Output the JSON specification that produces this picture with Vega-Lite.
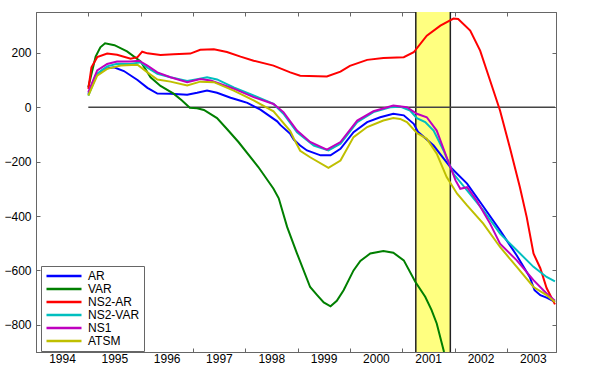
{
  "$schema": "https://vega.github.io/schema/vega-lite/v6.json",
  "width": 520,
  "height": 340,
  "autosize": {"type": "none"},
  "padding": {"left": 36, "top": 12, "right": 44, "bottom": 33},
  "background": "white",
  "datasets": {
    "recession": [{"start": 2001.26, "end": 2001.92}],
    "series": [
      {"model": "AR", "year": 1995.00, "value": 49},
      {"model": "AR", "year": 1995.14, "value": 116},
      {"model": "AR", "year": 1995.30, "value": 141},
      {"model": "AR", "year": 1995.49, "value": 147},
      {"model": "AR", "year": 1995.68, "value": 133},
      {"model": "AR", "year": 1995.94, "value": 100},
      {"model": "AR", "year": 1996.13, "value": 71},
      {"model": "AR", "year": 1996.32, "value": 50},
      {"model": "AR", "year": 1996.57, "value": 49},
      {"model": "AR", "year": 1996.89, "value": 46},
      {"model": "AR", "year": 1997.08, "value": 53},
      {"model": "AR", "year": 1997.27, "value": 61},
      {"model": "AR", "year": 1997.46, "value": 53},
      {"model": "AR", "year": 1997.72, "value": 35},
      {"model": "AR", "year": 1997.91, "value": 24},
      {"model": "AR", "year": 1998.04, "value": 16},
      {"model": "AR", "year": 1998.29, "value": -9},
      {"model": "AR", "year": 1998.61, "value": -52},
      {"model": "AR", "year": 1998.67, "value": -65},
      {"model": "AR", "year": 1998.86, "value": -98},
      {"model": "AR", "year": 1998.93, "value": -120},
      {"model": "AR", "year": 1999.05, "value": -141},
      {"model": "AR", "year": 1999.18, "value": -159},
      {"model": "AR", "year": 1999.44, "value": -177},
      {"model": "AR", "year": 1999.63, "value": -177},
      {"model": "AR", "year": 1999.82, "value": -153},
      {"model": "AR", "year": 2000.07, "value": -92},
      {"model": "AR", "year": 2000.33, "value": -55},
      {"model": "AR", "year": 2000.58, "value": -37},
      {"model": "AR", "year": 2000.83, "value": -24},
      {"model": "AR", "year": 2001.03, "value": -30},
      {"model": "AR", "year": 2001.22, "value": -61},
      {"model": "AR", "year": 2001.30, "value": -90},
      {"model": "AR", "year": 2001.60, "value": -141},
      {"model": "AR", "year": 2001.92, "value": -220},
      {"model": "AR", "year": 2002.24, "value": -281},
      {"model": "AR", "year": 2002.55, "value": -365},
      {"model": "AR", "year": 2002.87, "value": -453},
      {"model": "AR", "year": 2003.19, "value": -545},
      {"model": "AR", "year": 2003.44, "value": -625},
      {"model": "AR", "year": 2003.53, "value": -673},
      {"model": "AR", "year": 2003.64, "value": -691},
      {"model": "AR", "year": 2003.76, "value": -700},
      {"model": "AR", "year": 2003.92, "value": -716},

      {"model": "VAR", "year": 1995.00, "value": 73},
      {"model": "VAR", "year": 1995.14, "value": 186},
      {"model": "VAR", "year": 1995.23, "value": 220},
      {"model": "VAR", "year": 1995.32, "value": 235},
      {"model": "VAR", "year": 1995.50, "value": 228},
      {"model": "VAR", "year": 1995.74, "value": 205},
      {"model": "VAR", "year": 1996.00, "value": 168},
      {"model": "VAR", "year": 1996.19, "value": 110},
      {"model": "VAR", "year": 1996.38, "value": 78},
      {"model": "VAR", "year": 1996.63, "value": 50},
      {"model": "VAR", "year": 1996.79, "value": 25},
      {"model": "VAR", "year": 1996.94, "value": -2},
      {"model": "VAR", "year": 1997.08, "value": -4},
      {"model": "VAR", "year": 1997.21, "value": -10},
      {"model": "VAR", "year": 1997.46, "value": -40},
      {"model": "VAR", "year": 1997.65, "value": -80},
      {"model": "VAR", "year": 1997.87, "value": -128},
      {"model": "VAR", "year": 1998.25, "value": -220},
      {"model": "VAR", "year": 1998.54, "value": -300},
      {"model": "VAR", "year": 1998.64, "value": -335},
      {"model": "VAR", "year": 1998.80, "value": -440},
      {"model": "VAR", "year": 1998.99, "value": -538},
      {"model": "VAR", "year": 1999.24, "value": -661},
      {"model": "VAR", "year": 1999.37, "value": -690},
      {"model": "VAR", "year": 1999.50, "value": -718},
      {"model": "VAR", "year": 1999.63, "value": -732},
      {"model": "VAR", "year": 1999.75, "value": -712},
      {"model": "VAR", "year": 1999.88, "value": -673},
      {"model": "VAR", "year": 2000.07, "value": -600},
      {"model": "VAR", "year": 2000.20, "value": -565},
      {"model": "VAR", "year": 2000.39, "value": -538},
      {"model": "VAR", "year": 2000.64, "value": -529},
      {"model": "VAR", "year": 2000.83, "value": -535},
      {"model": "VAR", "year": 2001.03, "value": -563},
      {"model": "VAR", "year": 2001.25, "value": -642},
      {"model": "VAR", "year": 2001.44, "value": -697},
      {"model": "VAR", "year": 2001.56, "value": -745},
      {"model": "VAR", "year": 2001.66, "value": -795},
      {"model": "VAR", "year": 2001.80, "value": -900},

      {"model": "NS2-AR", "year": 1995.00, "value": 67},
      {"model": "NS2-AR", "year": 1995.06, "value": 147},
      {"model": "NS2-AR", "year": 1995.17, "value": 184},
      {"model": "NS2-AR", "year": 1995.36, "value": 197},
      {"model": "NS2-AR", "year": 1995.55, "value": 193},
      {"model": "NS2-AR", "year": 1995.81, "value": 178},
      {"model": "NS2-AR", "year": 1995.94, "value": 184},
      {"model": "NS2-AR", "year": 1996.03, "value": 204},
      {"model": "NS2-AR", "year": 1996.13, "value": 198},
      {"model": "NS2-AR", "year": 1996.38, "value": 192},
      {"model": "NS2-AR", "year": 1996.63, "value": 195},
      {"model": "NS2-AR", "year": 1996.95, "value": 197},
      {"model": "NS2-AR", "year": 1997.14, "value": 211},
      {"model": "NS2-AR", "year": 1997.40, "value": 213},
      {"model": "NS2-AR", "year": 1997.65, "value": 203},
      {"model": "NS2-AR", "year": 1997.91, "value": 186},
      {"model": "NS2-AR", "year": 1998.16, "value": 171},
      {"model": "NS2-AR", "year": 1998.54, "value": 153},
      {"model": "NS2-AR", "year": 1998.86, "value": 128},
      {"model": "NS2-AR", "year": 1999.05, "value": 116},
      {"model": "NS2-AR", "year": 1999.56, "value": 113},
      {"model": "NS2-AR", "year": 1999.82, "value": 131},
      {"model": "NS2-AR", "year": 2000.00, "value": 152},
      {"model": "NS2-AR", "year": 2000.33, "value": 174},
      {"model": "NS2-AR", "year": 2000.64, "value": 181},
      {"model": "NS2-AR", "year": 2001.03, "value": 184},
      {"model": "NS2-AR", "year": 2001.22, "value": 202},
      {"model": "NS2-AR", "year": 2001.47, "value": 263},
      {"model": "NS2-AR", "year": 2001.73, "value": 300},
      {"model": "NS2-AR", "year": 2001.98, "value": 326},
      {"model": "NS2-AR", "year": 2002.07, "value": 324},
      {"model": "NS2-AR", "year": 2002.30, "value": 282},
      {"model": "NS2-AR", "year": 2002.49, "value": 208},
      {"model": "NS2-AR", "year": 2002.68, "value": 98},
      {"model": "NS2-AR", "year": 2002.87, "value": -12},
      {"model": "NS2-AR", "year": 2003.06, "value": -150},
      {"model": "NS2-AR", "year": 2003.25, "value": -294},
      {"model": "NS2-AR", "year": 2003.38, "value": -404},
      {"model": "NS2-AR", "year": 2003.51, "value": -538},
      {"model": "NS2-AR", "year": 2003.64, "value": -592},
      {"model": "NS2-AR", "year": 2003.76, "value": -665},
      {"model": "NS2-AR", "year": 2003.92, "value": -725},

      {"model": "NS2-VAR", "year": 1995.00, "value": 43},
      {"model": "NS2-VAR", "year": 1995.17, "value": 123},
      {"model": "NS2-VAR", "year": 1995.36, "value": 150},
      {"model": "NS2-VAR", "year": 1995.55, "value": 160},
      {"model": "NS2-VAR", "year": 1995.81, "value": 159},
      {"model": "NS2-VAR", "year": 1996.00, "value": 165},
      {"model": "NS2-VAR", "year": 1996.13, "value": 145},
      {"model": "NS2-VAR", "year": 1996.32, "value": 123},
      {"model": "NS2-VAR", "year": 1996.57, "value": 110},
      {"model": "NS2-VAR", "year": 1996.89, "value": 96},
      {"model": "NS2-VAR", "year": 1997.08, "value": 103},
      {"model": "NS2-VAR", "year": 1997.27, "value": 110},
      {"model": "NS2-VAR", "year": 1997.46, "value": 102},
      {"model": "NS2-VAR", "year": 1997.78, "value": 73},
      {"model": "NS2-VAR", "year": 1998.16, "value": 43},
      {"model": "NS2-VAR", "year": 1998.54, "value": 12},
      {"model": "NS2-VAR", "year": 1998.73, "value": -24},
      {"model": "NS2-VAR", "year": 1998.99, "value": -92},
      {"model": "NS2-VAR", "year": 1999.31, "value": -141},
      {"model": "NS2-VAR", "year": 1999.59, "value": -159},
      {"model": "NS2-VAR", "year": 1999.82, "value": -134},
      {"model": "NS2-VAR", "year": 2000.14, "value": -55},
      {"model": "NS2-VAR", "year": 2000.45, "value": -18},
      {"model": "NS2-VAR", "year": 2000.77, "value": 0},
      {"model": "NS2-VAR", "year": 2000.96, "value": 2},
      {"model": "NS2-VAR", "year": 2001.15, "value": -12},
      {"model": "NS2-VAR", "year": 2001.28, "value": -40},
      {"model": "NS2-VAR", "year": 2001.44, "value": -55},
      {"model": "NS2-VAR", "year": 2001.60, "value": -86},
      {"model": "NS2-VAR", "year": 2001.79, "value": -159},
      {"model": "NS2-VAR", "year": 2001.98, "value": -245},
      {"model": "NS2-VAR", "year": 2002.24, "value": -306},
      {"model": "NS2-VAR", "year": 2002.55, "value": -379},
      {"model": "NS2-VAR", "year": 2002.87, "value": -465},
      {"model": "NS2-VAR", "year": 2003.19, "value": -526},
      {"model": "NS2-VAR", "year": 2003.51, "value": -587},
      {"model": "NS2-VAR", "year": 2003.76, "value": -624},
      {"model": "NS2-VAR", "year": 2003.92, "value": -640},

      {"model": "NS1", "year": 1995.00, "value": 55},
      {"model": "NS1", "year": 1995.17, "value": 135},
      {"model": "NS1", "year": 1995.36, "value": 159},
      {"model": "NS1", "year": 1995.55, "value": 168},
      {"model": "NS1", "year": 1995.81, "value": 168},
      {"model": "NS1", "year": 1995.97, "value": 171},
      {"model": "NS1", "year": 1996.13, "value": 153},
      {"model": "NS1", "year": 1996.32, "value": 128},
      {"model": "NS1", "year": 1996.57, "value": 110},
      {"model": "NS1", "year": 1996.89, "value": 92},
      {"model": "NS1", "year": 1997.14, "value": 104},
      {"model": "NS1", "year": 1997.34, "value": 98},
      {"model": "NS1", "year": 1997.78, "value": 68},
      {"model": "NS1", "year": 1998.16, "value": 37},
      {"model": "NS1", "year": 1998.54, "value": 12},
      {"model": "NS1", "year": 1998.73, "value": -18},
      {"model": "NS1", "year": 1998.99, "value": -86},
      {"model": "NS1", "year": 1999.24, "value": -128},
      {"model": "NS1", "year": 1999.56, "value": -156},
      {"model": "NS1", "year": 1999.82, "value": -128},
      {"model": "NS1", "year": 2000.14, "value": -49},
      {"model": "NS1", "year": 2000.45, "value": -15},
      {"model": "NS1", "year": 2000.83, "value": 6},
      {"model": "NS1", "year": 2001.09, "value": 0},
      {"model": "NS1", "year": 2001.28, "value": -24},
      {"model": "NS1", "year": 2001.47, "value": -37},
      {"model": "NS1", "year": 2001.66, "value": -86},
      {"model": "NS1", "year": 2001.85, "value": -184},
      {"model": "NS1", "year": 2002.02, "value": -269},
      {"model": "NS1", "year": 2002.11, "value": -300},
      {"model": "NS1", "year": 2002.24, "value": -294},
      {"model": "NS1", "year": 2002.42, "value": -342},
      {"model": "NS1", "year": 2002.68, "value": -428},
      {"model": "NS1", "year": 2002.87, "value": -502},
      {"model": "NS1", "year": 2003.19, "value": -563},
      {"model": "NS1", "year": 2003.51, "value": -636},
      {"model": "NS1", "year": 2003.76, "value": -685},
      {"model": "NS1", "year": 2003.92, "value": -712},

      {"model": "ATSM", "year": 1995.00, "value": 43},
      {"model": "ATSM", "year": 1995.17, "value": 116},
      {"model": "ATSM", "year": 1995.36, "value": 141},
      {"model": "ATSM", "year": 1995.62, "value": 153},
      {"model": "ATSM", "year": 1995.94, "value": 156},
      {"model": "ATSM", "year": 1996.13, "value": 128},
      {"model": "ATSM", "year": 1996.32, "value": 102},
      {"model": "ATSM", "year": 1996.57, "value": 94},
      {"model": "ATSM", "year": 1996.89, "value": 80},
      {"model": "ATSM", "year": 1997.14, "value": 94},
      {"model": "ATSM", "year": 1997.40, "value": 92},
      {"model": "ATSM", "year": 1997.78, "value": 61},
      {"model": "ATSM", "year": 1998.16, "value": 25},
      {"model": "ATSM", "year": 1998.54, "value": -15},
      {"model": "ATSM", "year": 1998.61, "value": -31},
      {"model": "ATSM", "year": 1998.86, "value": -88},
      {"model": "ATSM", "year": 1998.93, "value": -116},
      {"model": "ATSM", "year": 1999.05, "value": -160},
      {"model": "ATSM", "year": 1999.24, "value": -184},
      {"model": "ATSM", "year": 1999.59, "value": -223},
      {"model": "ATSM", "year": 1999.82, "value": -196},
      {"model": "ATSM", "year": 2000.07, "value": -110},
      {"model": "ATSM", "year": 2000.33, "value": -73},
      {"model": "ATSM", "year": 2000.64, "value": -49},
      {"model": "ATSM", "year": 2000.83, "value": -40},
      {"model": "ATSM", "year": 2000.96, "value": -43},
      {"model": "ATSM", "year": 2001.09, "value": -55},
      {"model": "ATSM", "year": 2001.28, "value": -95},
      {"model": "ATSM", "year": 2001.47, "value": -116},
      {"model": "ATSM", "year": 2001.66, "value": -171},
      {"model": "ATSM", "year": 2001.85, "value": -257},
      {"model": "ATSM", "year": 2002.05, "value": -318},
      {"model": "ATSM", "year": 2002.24, "value": -361},
      {"model": "ATSM", "year": 2002.55, "value": -428},
      {"model": "ATSM", "year": 2002.87, "value": -514},
      {"model": "ATSM", "year": 2003.19, "value": -587},
      {"model": "ATSM", "year": 2003.51, "value": -661},
      {"model": "ATSM", "year": 2003.76, "value": -691},
      {"model": "ATSM", "year": 2003.92, "value": -716}
    ]
  },
  "layer": [
    {
      "data": {"name": "recession"},
      "mark": {"type": "rect", "color": "#FFFF80"},
      "encoding": {
        "x": {"field": "start", "type": "quantitative",
              "scale": {"domain": [1994, 2003.94], "nice": false, "zero": false},
              "axis": {"orient": "top", "values": [1995, 1996, 1997, 1998, 1999, 2000, 2001, 2002, 2003], "labels": false, "title": null}},
        "x2": {"field": "end"}
      }
    },
    {
      "data": {"name": "recession"},
      "mark": {"type": "rule", "color": "#222222", "strokeWidth": 1.5},
      "encoding": {"x": {"field": "start", "type": "quantitative", "axis": null}}
    },
    {
      "data": {"name": "recession"},
      "mark": {"type": "rule", "color": "#222222", "strokeWidth": 1.5},
      "encoding": {"x": {"field": "end", "type": "quantitative", "axis": null}}
    },
    {
      "data": {"name": "recession"},
      "mark": {"type": "rule", "color": "#444444", "strokeWidth": 1.5},
      "encoding": {
        "x": {"datum": 1995, "type": "quantitative", "axis": null},
        "x2": {"datum": 2003.92},
        "y": {"datum": 0, "type": "quantitative",
              "scale": {"domain": [-900, 350], "nice": false, "zero": false},
              "axis": {"orient": "right", "values": [-800, -600, -400, -200, 0, 200], "labels": false, "title": null}}
      }
    },
    {
      "data": {"name": "series"},
      "mark": {"type": "line", "strokeWidth": 2, "clip": true},
      "encoding": {
        "x": {"field": "year", "type": "quantitative",
              "axis": {"orient": "bottom", "values": [1994, 1995, 1996, 1997, 1998, 1999, 2000, 2001, 2002, 2003], "format": "d", "labelOffset": 26, "labelPadding": 5, "labelFlush": false, "labelOverlap": false, "labelBound": false, "title": null}},
        "y": {"field": "value", "type": "quantitative",
              "axis": {"orient": "left", "values": [-800, -600, -400, -200, 0, 200], "format": "d", "title": null}},
        "color": {"field": "model", "type": "nominal",
                  "scale": {"domain": ["AR", "VAR", "NS2-AR", "NS2-VAR", "NS1", "ATSM"],
                            "range": ["#0000FF", "#007F00", "#FF0000", "#00BFBF", "#BF00BF", "#BFBF00"]},
                  "legend": {"orient": "none", "legendX": 5, "legendY": 254, "title": null,
                             "symbolType": "stroke", "symbolSize": 1225, "symbolStrokeWidth": 2.5,
                             "clipHeight": 12, "rowPadding": 1, "padding": 4,
                             "strokeColor": "#666666", "fillColor": "white",
                             "labelFontSize": 12, "labelFont": "Liberation Sans", "labelColor": "#000000", "labelOffset": 5}}
      }
    }
  ],
  "resolve": {"axis": {"x": "independent", "y": "independent"}},
  "config": {
    "font": "Liberation Sans",
    "view": {"stroke": "#666666", "strokeWidth": 1},
    "axis": {
      "domainColor": "#666666",
      "tickColor": "#666666",
      "tickSize": -4,
      "labelPadding": 9,
      "labelColor": "#000000",
      "labelFont": "Liberation Sans",
      "labelFontSize": 12,
      "grid": false
    }
  }
}
